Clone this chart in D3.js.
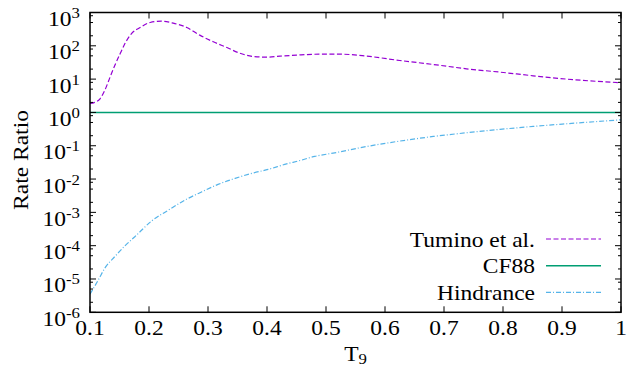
<!DOCTYPE html>
<html>
<head>
<meta charset="utf-8">
<script src="https://cdn.jsdelivr.net/npm/d3@7"></script>
<style>
  body { margin: 0; background: #fff; }
  svg  { display: block; }
  .axis-line { stroke: #000; stroke-width: 1.5; fill: none; }
  .tick-mark { stroke: #000; stroke-width: 1; }
</style>
</head>
<body>
<svg width="628" height="367" font-family="Liberation Serif"></svg>
<script>
// values
const tuminoT      = [0.100, 0.108, 0.117, 0.125, 0.134, 0.142, 0.151, 0.159, 0.170, 0.185,
                      0.202, 0.221, 0.241, 0.264, 0.286, 0.309, 0.332, 0.354, 0.377, 0.399,
                      0.422, 0.450, 0.490, 0.524, 0.569, 0.625, 0.682, 0.738, 0.795, 0.851,
                      0.908, 1.000];
const tuminoRatio  = [1.86, 2.0, 2.57, 4.57, 11.5, 25.7, 57.5, 115, 229, 355,
                      501, 550, 479, 355, 209, 132, 89, 60, 47.9, 45.7,
                      49.0, 52.5, 56.2, 56.2, 49.0, 36.3, 27.5, 20.4, 16.2, 12.6,
                      10.0, 7.8];

const cf88T        = [0.1, 1.0];
const cf88Ratio    = [1, 1];

const hindT        = [0.100, 0.114, 0.125, 0.142, 0.159, 0.176, 0.205, 0.233, 0.261, 0.289,
                      0.317, 0.346, 0.374, 0.402, 0.430, 0.456, 0.481, 0.512, 0.569, 0.625,
                      0.682, 0.738, 0.795, 0.851, 0.908, 1.000];
const hindRatio    = [3.5e-6, 9.3e-6, 2.1e-5, 4.7e-5, 9.8e-5, 1.86e-4, 5.6e-4, 1.17e-3, 2.34e-3, 4.1e-3,
                      6.9e-3, 1.05e-2, 1.48e-2, 1.95e-2, 2.75e-2, 3.6e-2, 4.8e-2, 6.0e-2, 9.5e-2, 0.138,
                      0.19, 0.245, 0.31, 0.38, 0.457, 0.60];

const xTicks       = [0.1, 0.2, 0.3, 0.4, 0.5, 0.6, 0.7, 0.8, 0.9, 1.0];
const xTickLabels  = ["0.1", "0.2", "0.3", "0.4", "0.5", "0.6", "0.7", "0.8", "0.9", "1"];
const yExponents   = [-6, -5, -4, -3, -2, -1, 0, 1, 2, 3];
const minorMults   = [2, 5, 8];

const legendLabels = ["Tumino et al.", "CF88", "Hindrance"];
const seriesColors = ["#9400d3", "#009e73", "#56b4e9"];
const seriesDashes = ["5,2.5", null, "5,2,1,2"];


let svg     = d3.select("svg"),
    pLeft   = 90,
    pRight  = 621,
    pTop    = 12.5,
    pBottom = 312.3,
    stretch = "scale(1.12,1)",

    x       = d3.scaleLinear()
                .domain([0.1, 1.0])
                .range([pLeft, pRight]),
    y       = d3.scaleLog()
                .domain([1e-6, 1e3])
                .range([pBottom, pTop]),

    line    = d3.line()
                .x(d => x(d[0]))
                .y(d => y(d[1]))
                .curve(d3.curveMonotoneX);

let series = [
  d3.zip(tuminoT, tuminoRatio),
  d3.zip(cf88T, cf88Ratio),
  d3.zip(hindT, hindRatio)
];

// curves (clipped to the frame)
svg.append("clipPath")
    .attr("id", "frame")
  .append("rect")
    .attr("x", pLeft)
    .attr("y", pTop)
    .attr("width", pRight - pLeft)
    .attr("height", pBottom - pTop);

svg.append("g")
    .attr("clip-path", "url(#frame)")
  .selectAll("path")
  .data(series)
  .enter().append("path")
    .attr("d", line)
    .attr("fill", "none")
    .attr("stroke", (d, i) => seriesColors[i])
    .attr("stroke-width", (d, i) => i == 1 ? 1.5 : 1.2)
    .attr("stroke-dasharray", (d, i) => seriesDashes[i]);

// ticks, inward on all four sides
let ticks = svg.append("g");

xTicks.forEach(t => {
  ticks.append("line").attr("class", "tick-mark")
    .attr("x1", x(t)).attr("x2", x(t))
    .attr("y1", pBottom).attr("y2", pBottom - 6);
  ticks.append("line").attr("class", "tick-mark")
    .attr("x1", x(t)).attr("x2", x(t))
    .attr("y1", pTop).attr("y2", pTop + 6);
});

yExponents.forEach(e => {
  let v = Math.pow(10, e);
  [[pLeft, 6], [pRight, -6]].forEach(s => {
    ticks.append("line").attr("class", "tick-mark")
      .attr("x1", s[0]).attr("x2", s[0] + s[1])
      .attr("y1", y(v)).attr("y2", y(v));
  });
  if (e < 3) {
    minorMults.forEach(m => {
      [[pLeft, 3], [pRight, -3]].forEach(s => {
        ticks.append("line").attr("class", "tick-mark")
          .attr("x1", s[0]).attr("x2", s[0] + s[1])
          .attr("y1", y(m * v)).attr("y2", y(m * v));
      });
    });
  }
});

svg.append("rect")
    .attr("class", "axis-line")
    .attr("x", pLeft)
    .attr("y", pTop)
    .attr("width", pRight - pLeft)
    .attr("height", pBottom - pTop);

// tick labels
let xLabels = svg.append("g")
  .selectAll("g")
  .data(xTicks)
  .enter().append("g")
    .attr("transform", d => `translate(${x(d)},335) ${stretch}`);

xLabels.append("text")
    .attr("text-anchor", "middle")
    .attr("font-size", 21)
    .text((d, i) => xTickLabels[i]);

let yLabels = svg.append("g")
  .selectAll("g")
  .data(yExponents)
  .enter().append("g")
    .attr("transform", d => `translate(80,${y(Math.pow(10, d)) + 13.5}) ${stretch}`);

let yText = yLabels.append("text")
    .attr("text-anchor", "end")
    .attr("font-size", 21)
    .text("10");

yText.append("tspan")
    .attr("dy", -8)
    .attr("font-size", 15)
    .text(d => d);

// axis titles
let xTitle = svg.append("g")
    .attr("transform", `translate(${(pLeft + pRight) / 2},361) ${stretch}`)
  .append("text")
    .attr("text-anchor", "middle")
    .attr("font-size", 21)
    .text("T");

xTitle.append("tspan")
    .attr("dy", 3)
    .attr("font-size", 15)
    .text("9");

svg.append("g")
    .attr("transform", `translate(28,160) rotate(-90) ${stretch}`)
  .append("text")
    .attr("text-anchor", "middle")
    .attr("font-size", 21)
    .text("Rate Ratio");

// legend
let legend = svg.append("g")
  .selectAll("g")
  .data(legendLabels)
  .enter().append("g")
    .attr("transform", (d, i) => `translate(0,${239 + i * 26.7})`);

legend.append("line")
    .attr("x1", 546)
    .attr("x2", 601)
    .attr("stroke", (d, i) => seriesColors[i])
    .attr("stroke-width", (d, i) => i == 1 ? 1.5 : 1.2)
    .attr("stroke-dasharray", (d, i) => seriesDashes[i]);

legend.append("g")
    .attr("transform", `translate(535,7.5) ${stretch}`)
  .append("text")
    .attr("text-anchor", "end")
    .attr("font-size", 21)
    .text(d => d);
</script>
</body>
</html>
